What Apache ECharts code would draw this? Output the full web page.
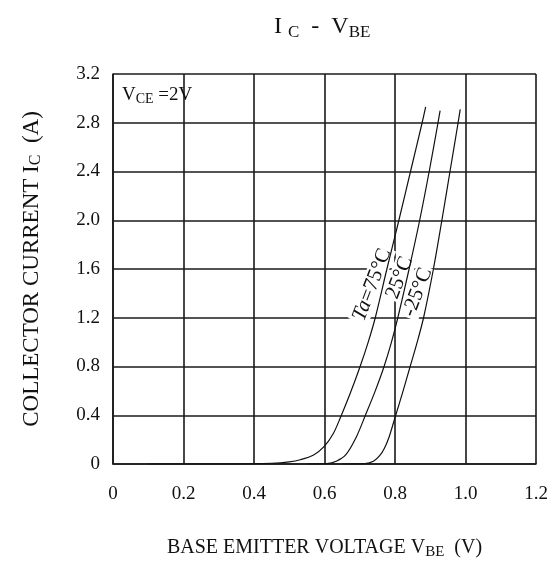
<!DOCTYPE html>
<html>
<head>
<meta charset="utf-8">
<title>IC - VBE</title>
<script src="https://cdn.jsdelivr.net/npm/echarts@6/dist/echarts.min.js"></script>
<style>
  html, body { margin: 0; padding: 0; background: #fff; }
  #chart { width: 559px; height: 561px; }
</style>
</head>
<body>
<div id="chart"></div>
<script>
// curves (VBE in V, IC in A)
var vbe75 = [0.10, 0.35, 0.45, 0.50, 0.531, 0.569, 0.60, 0.625, 0.645, 0.673, 0.701, 0.724, 0.744, 0.777, 0.811, 0.844, 0.877, 0.887];
var ic75  = [0, 0, 0.006, 0.018, 0.035, 0.074, 0.147, 0.25, 0.38, 0.58, 0.80, 1.00, 1.20, 1.60, 2.00, 2.40, 2.80, 2.93];

var vbe25 = [0.55, 0.607, 0.635, 0.66, 0.69, 0.716, 0.744, 0.769, 0.790, 0.808, 0.840, 0.870, 0.897, 0.922, 0.928];
var ic25  = [0, 0.003, 0.025, 0.074, 0.22, 0.40, 0.60, 0.80, 1.00, 1.20, 1.60, 2.00, 2.40, 2.80, 2.90];

var vbeM25 = [0.65, 0.715, 0.74, 0.757, 0.77, 0.783, 0.802, 0.823, 0.843, 0.863, 0.881, 0.909, 0.933, 0.956, 0.979, 0.985];
var icM25  = [0, 0.003, 0.025, 0.07, 0.13, 0.22, 0.40, 0.60, 0.80, 1.00, 1.20, 1.60, 2.00, 2.40, 2.80, 2.91];

// curve labels: text and anchor in data coords
var curveLabels = ['{i|Ta}=75°C', '25°C', '-25°C'];
var labelAnchors = [[0.735, 1.471], [0.813, 1.528], [0.864, 1.409]];

var FONT = 'Liberation Serif';

function pairs(xs, ys) {
    var out = [];
    for (var i = 0; i < xs.length; i++) out.push([xs[i], ys[i]]);
    return out;
}

function tickFmt(v) {
    return v === 0 ? '0' : v.toFixed(1);
}

var lineStyle = { color: '#111', width: 1.2 };
var gridLine = { show: true, lineStyle: { color: '#1a1a1a', width: 1.6 } };

function curve(name, xs, ys) {
    return {
        type: 'line', name: name, data: pairs(xs, ys),
        smooth: 0.3,
        showSymbol: false, lineStyle: lineStyle, z: 3
    };
}

var chart = echarts.init(document.getElementById('chart'));
chart.setOption({
    animation: false,
    backgroundColor: '#fff',
    title: {
        text: '{m|I }{s|C}{m|  -  V}{s|BE}',
        left: 269,
        top: 8,
        textStyle: {
            rich: {
                m: { fontFamily: FONT, fontSize: 24, fontWeight: 'normal', color: '#111' },
                s: { fontFamily: FONT, fontSize: 17, fontWeight: 'normal', color: '#111', padding: [11, 0, 0, 0] }
            }
        }
    },
    grid: { left: 113, right: 23, top: 74, bottom: 97, outerBoundsMode: 'none', containLabel: false },
    xAxis: {
        type: 'value',
        min: 0, max: 1.2, interval: 0.2,
        axisLine: { show: true, lineStyle: { color: '#1a1a1a', width: 1.6 } },
        axisTick: { show: false },
        splitLine: gridLine,
        axisLabel: { formatter: tickFmt, fontFamily: FONT, fontSize: 19, color: '#111', margin: 21 },
        name: '{n|BASE EMITTER VOLTAGE V}{s|BE}{n|  (V)}',
        nameLocation: 'middle',
        nameGap: 72,
        nameTextStyle: {
            rich: {
                n: { fontFamily: FONT, fontSize: 20, color: '#111' },
                s: { fontFamily: FONT, fontSize: 15, color: '#111', padding: [9, 0, 0, 0] }
            }
        }
    },
    yAxis: {
        type: 'value',
        min: 0, max: 3.2, interval: 0.4,
        axisLine: { show: true, lineStyle: { color: '#1a1a1a', width: 1.6 } },
        axisTick: { show: false },
        splitLine: gridLine,
        axisLabel: { formatter: tickFmt, fontFamily: FONT, fontSize: 19, color: '#111', margin: 13 },
        name: '{n|COLLECTOR CURRENT I}{s|C}{n|  (A)}',
        nameLocation: 'middle',
        nameGap: 69,
        nameTextStyle: {
            rich: {
                n: { fontFamily: FONT, fontSize: 23, color: '#111' },
                s: { fontFamily: FONT, fontSize: 16, color: '#111', padding: [9, 0, 0, 0] }
            }
        }
    },
    series: [
        curve('Ta=75', vbe75, ic75),
        curve('Ta=25', vbe25, ic25),
        curve('Ta=-25', vbeM25, icM25)
    ]
});

// labels placed from data coords after layout
var rot = 69 * Math.PI / 180;
var graphics = [{
    type: 'text',
    left: 122,
    top: 86,
    style: {
        text: '{n|V}{s|CE}{n| =2V}',
        rich: {
            n: { fontFamily: FONT, fontSize: 19, fill: '#111' },
            s: { fontFamily: FONT, fontSize: 14, fill: '#111', padding: [8, 0, 0, 0] }
        }
    },
    z: 2
}];
curveLabels.forEach(function (t, i) {
    var p = chart.convertToPixel({ gridIndex: 0 }, labelAnchors[i]);
    graphics.push({
        type: 'text',
        x: p[0],
        y: p[1],
        rotation: rot,
        z: 2,
        style: {
            text: t,
            align: 'center',
            verticalAlign: 'middle',
            backgroundColor: '#fff',
            padding: [0, 2],
            fontFamily: FONT,
            fontSize: 21,
            fill: '#111',
            rich: {
                i: { fontFamily: FONT, fontStyle: 'italic', fontSize: 21, fill: '#111' }
            }
        }
    });
});
chart.setOption({ graphic: graphics });
</script>
</body>
</html>
